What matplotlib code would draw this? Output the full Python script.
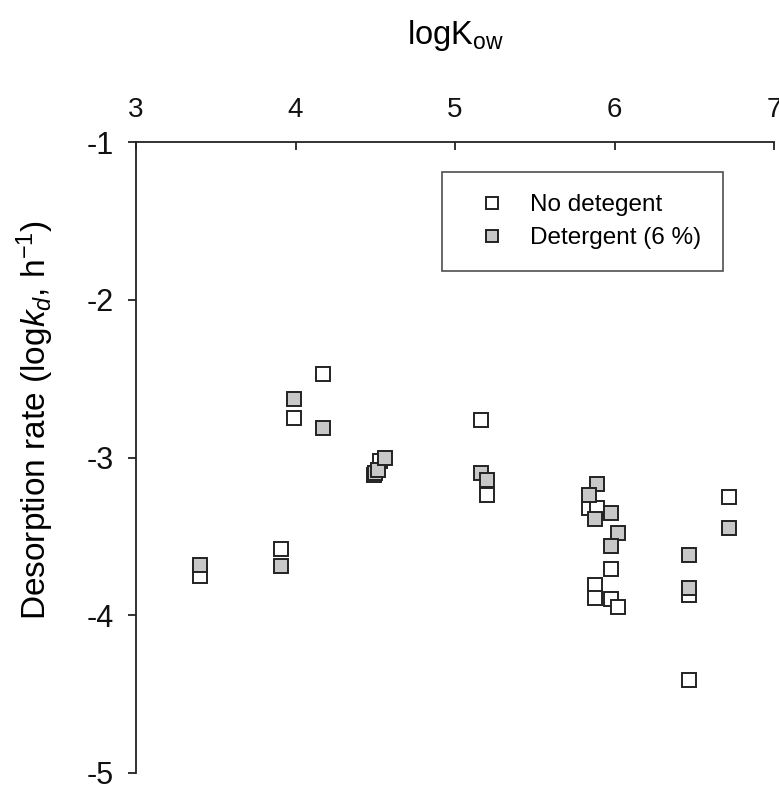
import matplotlib.pyplot as plt

plt.rcParams["font.family"] = ["Liberation Sans", "DejaVu Sans"]
plt.rcParams["mathtext.fontset"] = "custom"
plt.rcParams["mathtext.rm"] = "Liberation Sans"
plt.rcParams["mathtext.it"] = "Liberation Sans:italic"

# logKow vs logkd
no_det_x = [3.40, 3.91, 3.99, 4.17, 4.49, 4.53, 5.16, 5.20, 5.84, 5.89,
            5.98, 5.88, 5.88, 5.98, 6.02, 6.47, 6.47, 6.72]
no_det_y = [-3.75, -3.58, -2.75, -2.47, -3.11, -3.02, -2.76, -3.24, -3.32, -3.32,
            -3.71, -3.81, -3.89, -3.90, -3.95, -3.87, -4.41, -3.25]

det_x = [3.40, 3.91, 3.99, 4.17, 4.50, 4.52, 4.56, 5.16, 5.20, 5.89,
         5.84, 5.88, 5.98, 6.02, 5.98, 6.47, 6.47, 6.72]
det_y = [-3.68, -3.69, -2.63, -2.81, -3.10, -3.08, -3.00, -3.10, -3.14, -3.17,
         -3.24, -3.39, -3.35, -3.48, -3.56, -3.62, -3.83, -3.45]

x_ticks = [3, 4, 5, 6, 7]
y_ticks = [-1, -2, -3, -4, -5]

fig = plt.figure(figsize=(7.79, 7.89), dpi=100)
ax = fig.add_axes([0.1746, 0.0203, 0.819, 0.7997])

edge = "#222222"
ax.plot(no_det_x, no_det_y, ls="none", marker="s", ms=10.5, mew=1.4,
        mfc="white", mec=edge, label="No detegent")
ax.plot(det_x, det_y, ls="none", marker="s", ms=10.5, mew=1.4,
        mfc="#c8c8c8", mec=edge, label="Detergent (6 %)")

ax.set_xlim(3, 7)
ax.set_ylim(-5, -1)
ax.set_xticks(x_ticks)
ax.set_yticks(y_ticks)
ax.set_yticklabels([str(v) for v in y_ticks])

for side in ["right", "bottom"]:
    ax.spines[side].set_visible(False)
for side in ["top", "left"]:
    ax.spines[side].set_linewidth(1.3)
    ax.spines[side].set_color("#222222")

ax.xaxis.tick_top()
ax.xaxis.set_label_position("top")
ax.tick_params(axis="x", direction="in", length=6, width=1.2, pad=14,
               labelsize=20, colors="#111111")
ax.tick_params(axis="y", direction="out", length=6, width=1.2, pad=10,
               labelsize=22, colors="#111111")

ax.set_xlabel(r"logK$_{\mathrm{ow}}$", fontsize=23.5, labelpad=38)
ax.set_ylabel(r"Desorption rate (log$k_d$, h$^{-1}$)", fontsize=24)
ax.yaxis.set_label_coords(-0.126, 0.56)

leg = ax.legend(loc="upper right", bbox_to_anchor=(0.92, 0.952),
                fontsize=17.5, frameon=True, fancybox=False, markerscale=0.8,
                borderpad=0.9, handletextpad=0.4, labelspacing=0.45,
                borderaxespad=0, handlelength=2.3)
leg.get_frame().set_edgecolor("#222222")
leg.get_frame().set_linewidth(1.2)

fig.savefig("out.png", dpi=100)
